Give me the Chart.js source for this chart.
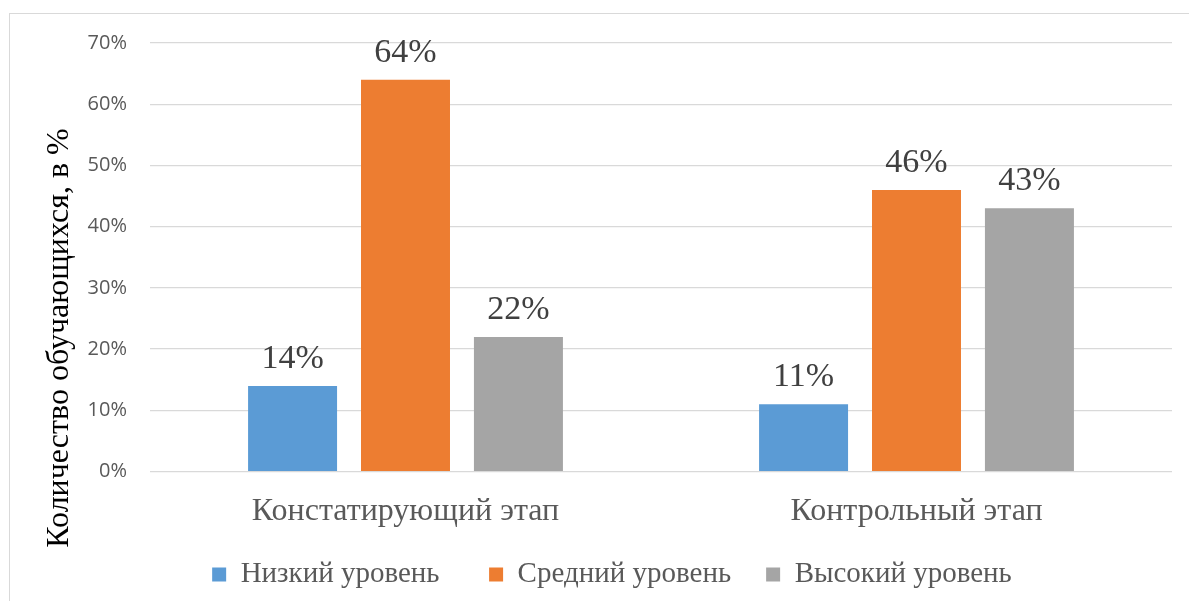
<!DOCTYPE html>
<html>
<head>
<meta charset="utf-8">
<script src="https://cdn.jsdelivr.net/npm/chart.js@4.4.1/dist/chart.umd.min.js"></script>
<style>
    html, body { margin: 0; padding: 0; background: #fff; overflow: hidden; }
    #frame { position: absolute; left: 9px; top: 13px; width: 1220px; height: 640px; border: 1.5px solid #d9d9d9; }
    #wrap { position: absolute; left: 0; top: 0; width: 1189px; height: 601px; }
</style>
</head>
<body>
<div id="frame"></div>
<div id="wrap"><canvas id="chart"></canvas></div>
<script>
const stages = ['Констатирующий этап', 'Контрольный этап'];
const levels = ['Низкий уровень', 'Средний уровень', 'Высокий уровень'];
const lowLevel = [14, 11];
const midLevel = [64, 46];
const highLevel = [22, 43];
const levelColors = ['#5b9bd5', '#ed7d31', '#a5a5a5'];
const yTicks = [0, 10, 20, 30, 40, 50, 60, 70];
const yTitle = 'Количество обучающихся, в %';

const serif = '"Liberation Serif", "Times New Roman", serif';

// value labels above the bars
const valueLabels = {
    id: 'valueLabels',
    afterDatasetsDraw(chart) {
        const ctx = chart.ctx;
        ctx.save();
        ctx.font = '34px ' + serif;
        ctx.fillStyle = '#404040';
        ctx.textAlign = 'center';
        ctx.textBaseline = 'alphabetic';
        chart.data.datasets.forEach((ds, i) => {
            chart.getDatasetMeta(i).data.forEach((bar, j) => {
                ctx.fillText(ds.data[j] + '%', bar.x, bar.y - 18);
            });
        });
        ctx.restore();
    }
};

// rotated y axis title, sits lower than the axis centre like in the original
const axisTitle = {
    id: 'axisTitle',
    afterDraw(chart) {
        const ctx = chart.ctx;
        ctx.save();
        ctx.translate(60, 338);
        ctx.rotate(-Math.PI / 2);
        ctx.font = '32px ' + serif;
        ctx.fillStyle = '#000';
        ctx.textAlign = 'center';
        ctx.textBaseline = 'middle';
        ctx.fillText(yTitle, 0, 0);
        ctx.restore();
    }
};

// extra gap after each legend entry (legend padding also pads vertically)
const legendGaps = ['\u2002\u2002\u2002', '\u2002\u2002', ''];

const ctx = document.getElementById('chart').getContext('2d');
new Chart(ctx, {
    type: 'bar',
    data: {
        labels: stages,
        datasets: [
            { label: levels[0], data: lowLevel, backgroundColor: levelColors[0] },
            { label: levels[1], data: midLevel, backgroundColor: levelColors[1] },
            { label: levels[2], data: highLevel, backgroundColor: levelColors[2] }
        ]
    },
    options: {
        responsive: true,
        maintainAspectRatio: false,
        animation: false,
        categoryPercentage: 0.663,
        barPercentage: 0.788,
        layout: {
            padding: { left: 52, right: 17, top: 43, bottom: 2 }
        },
        scales: {
            x: {
                afterFit(scale) { scale.height += 10; },
                grid: { display: false },
                border: { display: false },
                ticks: {
                    color: '#595959',
                    font: { family: serif, size: 32 },
                    padding: 13
                }
            },
            y: {
                min: 0,
                max: 70,
                afterFit(scale) { scale.width = 98; },
                afterBuildTicks(scale) { scale.ticks = yTicks.map(v => ({ value: v })); },
                grid: { color: '#d9d9d9', lineWidth: 1.3, drawTicks: false },
                border: { display: false },
                ticks: {
                    color: '#595959',
                    font: { family: '"Open Sans", sans-serif', size: 20 },
                    padding: 23,
                    callback: v => v + '%'
                }
            }
        },
        plugins: {
            legend: {
                position: 'bottom',
                labels: {
                    color: '#595959',
                    font: { family: serif, size: 29 },
                    boxWidth: 14,
                    boxHeight: 14,
                    padding: 6,
                    generateLabels(chart) {
                        const items = Chart.defaults.plugins.legend.labels.generateLabels(chart);
                        items.forEach((it, i) => {
                            it.lineWidth = 0;
                            it.text = it.text + legendGaps[i];
                        });
                        return items;
                    }
                }
            },
            tooltip: { enabled: false }
        }
    },
    plugins: [valueLabels, axisTitle]
});
</script>
</body>
</html>
